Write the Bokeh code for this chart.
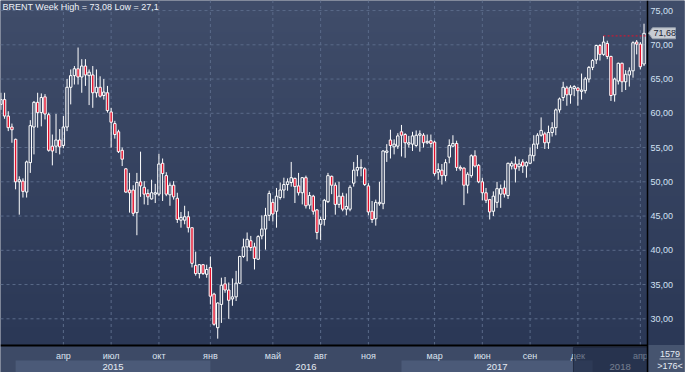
import numpy as np
from bokeh.plotting import figure
from bokeh.models import Range1d, FixedTicker, Label, CustomJSTickFormatter
from bokeh.core.properties import value
from bokeh.embed import file_html
from bokeh.resources import INLINE

# ---------------- data (weekly candles) ----------------
open_ = [61.3, 62.0, 59.6, 58.0, 56.2, 50.0, 50.1, 48.5, 52.8, 58.0,
         61.6, 60.1, 62.4, 59.8, 55.2, 55.2, 56.1, 55.3, 58.0, 63.8,
         65.5, 66.5, 65.3, 66.9, 65.5, 65.6, 63.0, 63.8, 62.6, 63.0,
         60.2, 58.5, 57.3, 54.6, 51.9, 48.8, 48.8, 45.5, 50.0, 49.2,
         48.3, 47.5, 48.2, 48.2, 52.7, 50.9, 48.1, 49.5, 47.6, 44.4,
         44.4, 44.9, 43.3, 37.8, 36.6, 37.9, 36.5, 37.5, 33.6, 28.7,
         32.1, 35.1, 34.2, 32.9, 33.2, 35.2, 39.1, 40.5, 41.4, 40.5,
         38.7, 42.1, 43.1, 45.1, 47.0, 45.7, 47.7, 48.8, 49.6, 49.9,
         50.5, 49.4, 48.4, 50.6, 46.6, 47.9, 45.9, 43.8, 44.5, 47.1,
         50.8, 49.5, 46.7, 47.9, 46.0, 46.0, 49.8, 51.7, 52.0, 51.9,
         49.4, 45.7, 44.6, 46.8, 46.8, 54.3, 56.1, 55.1, 55.2, 57.3,
         56.9, 55.5, 55.5, 55.3, 56.8, 56.8, 55.7, 56.0, 55.8, 51.4,
         51.7, 50.9, 53.6, 55.2, 55.6, 52.1, 52.0, 49.5, 50.9, 53.8,
         52.4, 50.0, 48.4, 47.4, 45.7, 47.0, 48.2, 49.1, 48.0, 52.3,
         52.6, 52.2, 52.9, 52.3, 52.7, 53.8, 55.5, 56.8, 57.0, 55.7,
         57.2, 57.9, 60.5, 62.3, 63.7, 62.7, 63.6, 63.7, 63.2, 63.3,
         65.0, 66.7, 67.8, 69.9, 68.6, 70.2, 68.3, 62.7, 64.7, 67.3,
         64.6, 65.6, 66.2, 70.4, 70.1, 67.2]
close = [62.0, 59.6, 57.9, 57.6, 50.0, 50.3, 48.6, 52.9, 58.2, 61.6,
         60.1, 62.3, 59.9, 54.6, 54.5, 56.1, 55.1, 58.0, 63.8, 65.5,
         66.5, 65.3, 66.9, 65.6, 66.0, 63.0, 63.8, 62.5, 63.1, 60.4,
         58.7, 56.9, 54.4, 53.3, 48.5, 48.4, 45.4, 49.9, 49.4, 48.2,
         47.8, 48.4, 48.4, 52.6, 51.2, 48.2, 49.5, 47.8, 44.5, 44.8,
         44.9, 43.3, 38.1, 36.6, 37.9, 36.6, 37.2, 33.3, 29.2, 32.3,
         34.9, 34.2, 32.7, 33.2, 35.2, 39.1, 40.5, 41.6, 40.4, 38.8,
         42.0, 43.1, 45.1, 48.3, 45.3, 47.9, 48.8, 49.6, 50.0, 50.6,
         49.3, 48.4, 50.6, 46.5, 48.0, 45.7, 42.6, 44.5, 47.3, 50.9,
         49.5, 46.7, 47.9, 46.0, 46.4, 49.2, 51.7, 52.1, 52.1, 49.6,
         45.6, 44.5, 47.0, 47.0, 54.5, 54.5, 55.3, 55.5, 56.7, 56.8,
         55.7, 55.7, 56.7, 56.8, 57.0, 55.7, 55.9, 55.6, 51.2, 51.8,
         50.9, 52.8, 55.3, 55.6, 52.1, 51.9, 49.5, 51.1, 53.8, 52.3,
         50.0, 48.4, 47.3, 45.6, 47.9, 49.0, 49.0, 48.2, 52.7, 52.7,
         51.9, 52.6, 52.3, 52.8, 53.9, 55.5, 56.8, 57.5, 55.7, 57.2,
         57.9, 60.5, 62.1, 63.8, 62.7, 63.8, 63.9, 63.3, 63.4, 65.0,
         66.7, 67.7, 69.9, 68.6, 70.4, 68.3, 62.6, 65.0, 67.3, 64.6,
         65.7, 66.2, 70.3, 70.1, 66.8, 71.68]
high = [63.0, 63.0, 60.3, 58.5, 56.3, 50.8, 50.5, 53.1, 59.0, 61.8,
        63.0, 62.9, 62.8, 60.1, 56.9, 59.9, 57.7, 59.6, 65.0, 66.4,
        66.9, 69.6, 67.9, 67.9, 66.4, 66.9, 66.4, 65.4, 65.0, 64.0,
        60.8, 58.9, 57.6, 55.0, 52.0, 51.3, 49.5, 51.3, 54.4, 50.1,
        48.9, 50.3, 49.7, 54.1, 53.4, 51.4, 49.9, 50.1, 48.4, 45.6,
        46.5, 45.7, 43.3, 39.8, 38.0, 38.0, 37.9, 39.1, 33.8, 32.4,
        36.0, 36.1, 35.3, 35.9, 37.0, 39.2, 41.7, 42.6, 42.1, 41.1,
        42.2, 45.1, 46.2, 48.7, 47.5, 49.1, 49.9, 50.6, 50.5, 52.9,
        50.6, 51.3, 50.7, 50.9, 48.5, 48.1, 46.0, 44.9, 47.5, 51.3,
        50.9, 49.9, 50.0, 48.4, 48.3, 49.5, 52.9, 53.9, 53.3, 52.1,
        49.8, 47.2, 47.4, 50.0, 54.6, 55.5, 57.6, 56.2, 57.1, 58.3,
        57.1, 56.7, 57.3, 57.5, 57.5, 57.1, 56.9, 56.9, 56.0, 52.7,
        52.6, 53.3, 56.2, 56.8, 56.0, 52.4, 52.1, 51.4, 54.0, 54.6,
        52.6, 50.6, 49.1, 47.5, 48.6, 50.0, 49.6, 50.2, 52.8, 53.0,
        53.7, 53.3, 53.3, 53.0, 55.0, 56.8, 57.1, 59.4, 57.3, 58.2,
        58.7, 60.7, 62.3, 64.6, 64.0, 64.1, 64.1, 63.8, 65.8, 65.3,
        66.9, 67.9, 70.0, 70.1, 71.3, 70.6, 68.4, 65.2, 67.4, 67.4,
        66.3, 66.7, 70.5, 70.7, 70.4, 73.08]
low = [60.5, 59.2, 57.4, 55.7, 48.9, 45.2, 47.7, 47.7, 51.3, 54.0,
       57.9, 58.1, 59.1, 54.4, 52.4, 54.2, 54.0, 54.9, 57.4, 61.3,
       64.2, 64.2, 63.0, 64.0, 61.2, 60.8, 62.3, 62.3, 62.0, 60.1,
       55.0, 56.3, 54.2, 52.3, 48.4, 45.5, 45.0, 42.2, 47.8, 46.7,
       46.6, 47.4, 46.9, 47.9, 47.2, 47.9, 46.5, 47.4, 44.0, 43.3,
       43.8, 42.6, 37.5, 36.3, 35.9, 36.4, 36.0, 32.1, 29.0, 27.1,
       29.4, 33.8, 30.0, 31.9, 32.6, 35.1, 38.9, 38.4, 39.9, 37.2,
       38.6, 41.6, 40.1, 44.3, 44.2, 43.3, 47.4, 47.6, 48.7, 49.3,
       46.9, 48.0, 46.7, 46.1, 46.0, 45.2, 41.6, 41.5, 43.6, 46.9,
       48.2, 45.2, 46.2, 45.7, 45.1, 45.7, 49.3, 50.8, 50.8, 49.4,
       45.1, 44.0, 43.6, 46.5, 46.0, 52.9, 53.4, 54.0, 54.8, 53.7,
       53.5, 55.0, 54.5, 55.1, 54.4, 55.0, 55.5, 55.0, 50.9, 50.3,
       49.6, 50.1, 52.7, 55.1, 51.6, 51.6, 46.6, 48.3, 50.6, 52.1,
       49.8, 47.3, 46.9, 44.5, 45.0, 46.2, 46.2, 47.7, 47.5, 51.8,
       49.9, 51.6, 51.3, 50.6, 52.6, 53.0, 54.8, 56.6, 54.8, 54.8,
       56.6, 56.8, 60.1, 61.8, 61.1, 61.4, 62.5, 61.1, 62.0, 62.9,
       64.5, 66.3, 67.2, 67.7, 68.4, 67.9, 61.8, 61.7, 64.2, 63.1,
       63.4, 63.9, 65.2, 68.6, 66.4, 66.9]

y_ticks = [30, 35, 40, 45, 50, 55, 60, 65, 70, 75]
month_idx = [17, 30, 43, 57, 74, 87, 100, 118, 131, 144, 157, 174]
month_labels = ["апр", "июл", "окт", "янв", "май", "авг", "ноя", "мар", "июн", "сен", "дек", "апр"]
year_labels = ["2015", "2016", "2017", "2018"]
year_start = [4, 57, 109, 161]
year_end = [57, 109, 161, 176]
last_price = 71.68
bars_total = 1579
bars_visible = 176


def fmt(v, spec):
    return format(v, spec).replace(".", ",")


# ---------------- layout helpers (page pixels -> plot units; layout only) ----------------
PX_PER_UNIT = 6.85          # vertical pixels per price unit
PX_PER_BAR = 3.675          # horizontal pixels per weekly bar


def py(page_y):
    return 70 - (page_y - 52.3) / PX_PER_UNIT


def px(page_x):
    return (page_x - 8.4) / PX_PER_BAR


n = len(close)
idx = np.arange(n)
o = np.array(open_)
c = np.array(close)
h = np.array(high)
lo = np.array(low)
top = np.maximum(o, c)
bot = np.minimum(o, c)
up = c >= o

W, H = 685, 372
x0, x1 = px(8), px(8 + W - 1)
x_axis = px(655)                 # price-area right edge / axis line
y_bottom, y_top = py(380), py(8)
y_floor = py(352.5)              # bottom of price area
FONT = "Liberation Sans"

p = figure(width=W, height=H, x_range=Range1d(x0, x1), y_range=Range1d(y_bottom, y_top),
           output_backend="svg", toolbar_location=None, x_axis_location=None,
           y_axis_location="right", min_border=0, min_border_right=1,
           background_fill_color="#34415f", border_fill_color="#34415f",
           outline_line_color=None)

# vertical gradient background
N = 200
grad = np.empty((N, 1), dtype=np.uint32)
view = grad.view(dtype=np.uint8).reshape((N, 1, 4))
bot_col = np.array([43, 56, 86])
top_col = np.array([64, 77, 106])
for i in range(N):
    t = i / (N - 1)
    view[i, 0, 0:3] = (bot_col + (top_col - bot_col) * t).astype(np.uint8)
    view[i, 0, 3] = 255
p.image_rgba(image=[grad], x=x0, y=y_floor, dw=x1 - x0, dh=y_top - y_floor)

# grid (dashed), kept inside the price area
p.xgrid.visible = False
p.ygrid.visible = False
p.segment(x0=x0, y0=y_ticks, x1=x_axis, y1=y_ticks, line_color="#5a6a89", line_dash="3 3", line_width=1)
p.segment(x0=month_idx, y0=y_floor, x1=month_idx, y1=y_top,
          line_color="#5a6a89", line_dash="3 3", line_width=1)

# right price axis (labels drawn into the axis strip left of the canvas edge)
ax = p.yaxis[0]
ax.ticker = FixedTicker(ticks=y_ticks)
ax.formatter = CustomJSTickFormatter(code="return tick.toFixed(2).replace('.', ',');")
ax.axis_line_color = None
ax.major_tick_line_color = None
ax.minor_tick_line_color = None
ax.major_tick_out = 0
ax.major_tick_in = 0
ax.major_label_standoff = -(8 + W - 1 - 658)
ax.major_label_text_font = FONT
ax.major_label_text_font_size = "9px"
ax.major_label_text_color = "#d3e1f3"

# candles: wicks split so hollow bodies stay hollow, then bodies
p.segment(x0=idx, y0=h, x1=idx, y1=top, line_color="white", line_width=1)
p.segment(x0=idx, y0=bot, x1=idx, y1=lo, line_color="white", line_width=1)
p.vbar(x=idx[up], top=top[up], bottom=bot[up], width=0.66,
       fill_alpha=0, line_color="white", line_width=1)
p.vbar(x=idx[~up], top=top[~up], bottom=bot[~up], width=0.66,
       fill_color="#e3102c", line_color="white", line_width=1)

# previous-high dotted marker
hi_i = int(np.argmax(h[:-1]))
p.segment(x0=[hi_i], y0=[h[hi_i]], x1=[n - 0.4], y1=[h[hi_i]],
          line_color="#e3102c", line_dash="2 2", line_width=1)

# bottom time-axis strip
p.quad(left=x0, right=x_axis, bottom=y_bottom, top=y_floor, fill_color="#3d4a66", line_color=None)
band_l = [year_start[i] for i in range(0, len(year_labels), 2)]
band_r = [year_end[i] for i in range(0, len(year_labels), 2)]
p.quad(left=band_l, right=band_r, bottom=y_bottom, top=py(368), fill_color="#4b5a78", line_color=None)
p.segment(x0=x0, y0=py(353), x1=x_axis, y1=py(353), line_color="black", line_width=2)
p.text(x=month_idx, y=py(363.3), text=month_labels, text_align="center", text_baseline="middle",
       text_font=value(FONT), text_font_size="9px", text_color="#dbe3ee")
year_mid = [(a + b) / 2 for a, b in zip(year_start, year_end)]
p.text(x=year_mid, y=py(374), text=year_labels, text_align="center", text_baseline="middle",
       text_font=value(FONT), text_font_size="9.5px", text_color="#e6ecf4")
p.quad(left=month_idx[-2] - 1.2, right=x_axis, bottom=y_bottom, top=py(355),
       fill_color="#16203a", fill_alpha=0.55, line_color="#222b42")

# axis strip bottom-right counter box
p.quad(left=px(656), right=x1, bottom=y_bottom, top=y_floor, fill_color="#46546f", line_color=None)
p.segment(x0=px(667), y0=py(366.5), x1=px(688), y1=py(366.5), line_color="#aeb8c8", line_width=1)
p.text(x=[px(677.5), px(677.5)], y=[py(361), py(373.5)], text=[str(bars_total), f">{bars_visible}<"],
       text_align="center", text_baseline="middle", text_font=value(FONT),
       text_font_size="9px", text_color="#e6ecf4")

# axis line
p.segment(x0=x_axis, y0=y_bottom, x1=x_axis, y1=y_top, line_color="black", line_width=1.5)

# last-price tag
tag_l, tag_r, tip = px(660), px(683), px(656)
tag_hi, tag_lo = last_price + 5.5 / PX_PER_UNIT, last_price - 5.5 / PX_PER_UNIT
p.patch(x=[tip, tag_l, tag_r, tag_r, tag_l], y=[last_price, tag_hi, tag_hi, tag_lo, tag_lo],
        fill_color="#c8ccd3", line_color="#9aa2ae", line_width=1)
p.text(x=[px(661)], y=[last_price], text=[fmt(last_price, ".2f")], text_align="left",
       text_baseline="middle", text_font=value(FONT), text_font_size="9px",
       text_color="#1b2333")

# title
title = f"BRENT Week High = {fmt(max(high), '.2f')} Low = {fmt(min(low), 'g')}"
p.add_layout(Label(x=2, y=H - 1, x_units="screen", y_units="screen", text=title,
                   text_baseline="top", text_align="left", text_font=FONT,
                   text_font_size="9px", text_color="#eef2f8"))

open("out.html", "w").write(file_html(p, INLINE))
